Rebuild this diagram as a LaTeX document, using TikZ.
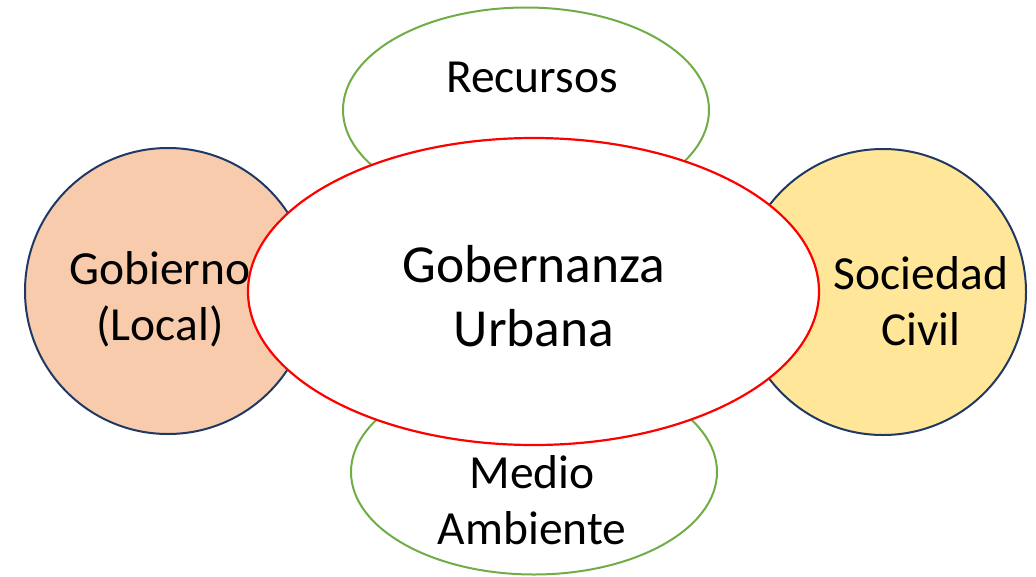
\documentclass[tikz,border=0pt]{standalone}
\usepackage{fontspec}
\setmainfont{Carlito}
\usetikzlibrary{shapes.geometric}
\definecolor{verde}{HTML}{70AD47}
\definecolor{marino}{HTML}{203864}
\definecolor{salmon}{HTML}{F8CBAD}
\definecolor{amarillo}{HTML}{FFE699}
\begin{document}
\begin{tikzpicture}[x=1pt,y=-1pt,
aro/.style={ellipse,draw=verde,line width=2pt,fill=white,inner sep=0pt,
minimum width=366pt,minimum height=205pt},
circ/.style={circle,draw=marino,line width=2pt,inner sep=0pt,minimum size=286pt},
txt/.style={anchor=base,align=center,font=\fontsize{47.5}{56}\selectfont}]
\useasboundingbox (0,0) rectangle (1036,576);
\node[aro] (rec) at (526,110) {};
\node[aro] (med) at (534,472) {};
\node[circ,fill=salmon] (gob) at (168,291) {};
\node[circ,fill=amarillo] (soc) at (883,292) {};
\node[ellipse,draw=red,line width=2.2pt,fill=white,inner sep=0pt,
minimum width=571pt,minimum height=307pt] (gu) at (533.5,291.5) {};
\node[txt] (rec-t) at (532,92) {Recursos};
\node[txt] (med-t) at (532,544) {Medio\\Ambiente};
\node[txt] (gob-t) at (160,340) {Gobierno\\(Local)};
\node[txt] (soc-t) at (921,345) {Sociedad\\Civil};
\node[txt,font=\fontsize{53.5}{64}\selectfont] (gu-t) at (534,346) {Gobernanza\\Urbana};
\end{tikzpicture}
\end{document}
